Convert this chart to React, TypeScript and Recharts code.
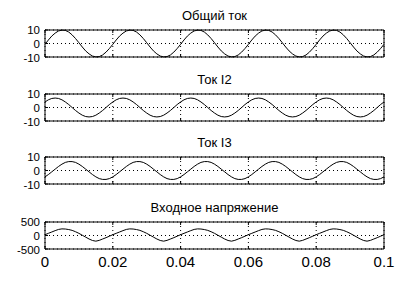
import { LineChart, Line, XAxis, YAxis, CartesianGrid } from "recharts";

// time samples, s
const time = [
  0, 0.001, 0.002, 0.003, 0.004, 0.005, 0.006, 0.007, 0.008, 0.009,
  0.01, 0.011, 0.012, 0.013, 0.014, 0.015, 0.016, 0.017, 0.018, 0.019,
  0.02, 0.021, 0.022, 0.023, 0.024, 0.025, 0.026, 0.027, 0.028, 0.029,
  0.03, 0.031, 0.032, 0.033, 0.034, 0.035, 0.036, 0.037, 0.038, 0.039,
  0.04, 0.041, 0.042, 0.043, 0.044, 0.045, 0.046, 0.047, 0.048, 0.049,
  0.05, 0.051, 0.052, 0.053, 0.054, 0.055, 0.056, 0.057, 0.058, 0.059,
  0.06, 0.061, 0.062, 0.063, 0.064, 0.065, 0.066, 0.067, 0.068, 0.069,
  0.07, 0.071, 0.072, 0.073, 0.074, 0.075, 0.076, 0.077, 0.078, 0.079,
  0.08, 0.081, 0.082, 0.083, 0.084, 0.085, 0.086, 0.087, 0.088, 0.089,
  0.09, 0.091, 0.092, 0.093, 0.094, 0.095, 0.096, 0.097, 0.098, 0.099,
  0.1,
];

const totalCurrent = [
  -0.6, 2.6, 5.5, 7.7, 9.3, 9.9, 9.7, 8.5, 6.4, 3.7, 0.6, -2.6, -5.5, -7.7, -9.3, -9.9, -9.7, -8.5, -6.4, -3.7,
  -0.6, 2.6, 5.5, 7.7, 9.3, 9.9, 9.7, 8.5, 6.4, 3.7, 0.6, -2.6, -5.5, -7.7, -9.3, -9.9, -9.7, -8.5, -6.4, -3.7,
  -0.6, 2.6, 5.5, 7.7, 9.3, 9.9, 9.7, 8.5, 6.4, 3.7, 0.6, -2.6, -5.5, -7.7, -9.3, -9.9, -9.7, -8.5, -6.4, -3.7,
  -0.6, 2.6, 5.5, 7.7, 9.3, 9.9, 9.7, 8.5, 6.4, 3.7, 0.6, -2.6, -5.5, -7.7, -9.3, -9.9, -9.7, -8.5, -6.4, -3.7,
  -0.6, 2.6, 5.5, 7.7, 9.3, 9.9, 9.7, 8.5, 6.4, 3.7, 0.6, -2.6, -5.5, -7.7, -9.3, -9.9, -9.7, -8.5, -6.4, -3.7,
  -0.6,
];

const currentI2 = [
  4.1, 5.7, 6.7, 7.0, 6.7, 5.7, 4.1, 2.2, 0, -2.2, -4.1, -5.7, -6.7, -7.0, -6.7, -5.7, -4.1, -2.2, 0, 2.2,
  4.1, 5.7, 6.7, 7.0, 6.7, 5.7, 4.1, 2.2, 0, -2.2, -4.1, -5.7, -6.7, -7.0, -6.7, -5.7, -4.1, -2.2, 0, 2.2,
  4.1, 5.7, 6.7, 7.0, 6.7, 5.7, 4.1, 2.2, 0, -2.2, -4.1, -5.7, -6.7, -7.0, -6.7, -5.7, -4.1, -2.2, 0, 2.2,
  4.1, 5.7, 6.7, 7.0, 6.7, 5.7, 4.1, 2.2, 0, -2.2, -4.1, -5.7, -6.7, -7.0, -6.7, -5.7, -4.1, -2.2, 0, 2.2,
  4.1, 5.7, 6.7, 7.0, 6.7, 5.7, 4.1, 2.2, 0, -2.2, -4.1, -5.7, -6.7, -7.0, -6.7, -5.7, -4.1, -2.2, 0, 2.2,
  4.1,
];

const currentI3 = [
  -4.7, -3.0, -1.0, 1.0, 3.0, 4.7, 6.0, 6.6, 6.6, 6.0, 4.7, 3.0, 1.0, -1.0, -3.0, -4.7, -6.0, -6.6, -6.6, -6.0,
  -4.7, -3.0, -1.0, 1.0, 3.0, 4.7, 6.0, 6.6, 6.6, 6.0, 4.7, 3.0, 1.0, -1.0, -3.0, -4.7, -6.0, -6.6, -6.6, -6.0,
  -4.7, -3.0, -1.0, 1.0, 3.0, 4.7, 6.0, 6.6, 6.6, 6.0, 4.7, 3.0, 1.0, -1.0, -3.0, -4.7, -6.0, -6.6, -6.6, -6.0,
  -4.7, -3.0, -1.0, 1.0, 3.0, 4.7, 6.0, 6.6, 6.6, 6.0, 4.7, 3.0, 1.0, -1.0, -3.0, -4.7, -6.0, -6.6, -6.6, -6.0,
  -4.7, -3.0, -1.0, 1.0, 3.0, 4.7, 6.0, 6.6, 6.6, 6.0, 4.7, 3.0, 1.0, -1.0, -3.0, -4.7, -6.0, -6.6, -6.6, -6.0,
  -4.7,
];

const inputVoltage = [
  30, 80, 130, 180, 225, 245, 240, 220, 190, 140, 80, 10, -60, -130, -185, -210, -180, -130, -80, -25,
  30, 80, 130, 180, 225, 245, 240, 220, 190, 140, 80, 10, -60, -130, -185, -210, -180, -130, -80, -25,
  30, 80, 130, 180, 225, 245, 240, 220, 190, 140, 80, 10, -60, -130, -185, -210, -180, -130, -80, -25,
  30, 80, 130, 180, 225, 245, 240, 220, 190, 140, 80, 10, -60, -130, -185, -210, -180, -130, -80, -25,
  30, 80, 130, 180, 225, 245, 240, 220, 190, 140, 80, 10, -60, -130, -185, -210, -180, -130, -80, -25,
  30,
];

const xTicks = [0, 0.02, 0.04, 0.06, 0.08, 0.1];
const xTickLabels = ["0", "0.02", "0.04", "0.06", "0.08", "0.1"];
const currentTicks = [-10, 0, 10];
const voltageTicks = [-500, 0, 500];

const FONT = "'Liberation Sans', Arial, sans-serif";
const W = 412;
const H = 284;
const PLOT_LEFT = 45;
const PLOT_RIGHT = 384;

const panels = [
  { title: "Общий ток", values: totalCurrent, ticks: currentTicks, top: 30, bottom: 57, showX: false },
  { title: "Ток I2", values: currentI2, ticks: currentTicks, top: 94, bottom: 121, showX: false },
  { title: "Ток I3", values: currentI3, ticks: currentTicks, top: 157, bottom: 184, showX: false },
  { title: "Входное напряжение", values: inputVoltage, ticks: voltageTicks, top: 222, bottom: 249, showX: true },
];

// small nudge so the three stacked labels do not collide
const yShift = [0.5, 0, -0.5];

const LeftTick = ({ x, y, payload, index }: any) => (
  <g>
    <line x1={x} x2={x + 3} y1={y} y2={y} stroke="#000" />
    <text
      x={x - 5}
      y={y + yShift[index]}
      dy="0.36em"
      textAnchor="end"
      fontSize={11.5}
      fontFamily={FONT}
      fill="#000"
    >
      {payload.value}
    </text>
  </g>
);

const RightTick = ({ x, y }: any) => (
  <line x1={x} x2={x - 3} y1={y} y2={y} stroke="#000" />
);

const TopTick = ({ x, y }: any) => (
  <line x1={x} x2={x} y1={y} y2={y + 3} stroke="#000" />
);

const makeBottomTick = (showX: boolean) => ({ x, y, index }: any) => (
  <g>
    <line x1={x} x2={x} y1={y} y2={y - 3} stroke="#000" />
    {showX && (
      <text x={x} y={y + 18} textAnchor="middle" fontSize={15} fontFamily={FONT} fill="#000">
        {xTickLabels[index]}
      </text>
    )}
  </g>
);

export default function App() {
  return (
    <div style={{ position: "absolute", left: 0, top: 0, width: W, height: H, background: "#fff" }}>
      {panels.map((p) => {
        const data = time.map((t, i) => ({ t, v: p.values[i] }));
        const domain = [p.ticks[0], p.ticks[2]];
        return (
          <div key={p.title}>
            <div
              style={{
                position: "absolute",
                left: PLOT_LEFT,
                width: PLOT_RIGHT - PLOT_LEFT,
                top: p.top - 21,
                textAlign: "center",
                fontSize: 13,
                lineHeight: "13px",
                fontFamily: FONT,
                color: "#000",
                whiteSpace: "nowrap",
              }}
            >
              {p.title}
            </div>
            <div style={{ position: "absolute", left: 0, top: 0 }}>
              <LineChart
                width={W}
                height={H}
                data={data}
                margin={{ top: p.top - 1, bottom: H - p.bottom - 1, left: 0, right: W - PLOT_RIGHT - 1 }}
              >
                <CartesianGrid stroke="#000" strokeDasharray="1 3" />
                <XAxis
                  dataKey="t"
                  type="number"
                  domain={[0, 0.1]}
                  ticks={xTicks}
                  interval={0}
                  height={1}
                  tickSize={0}
                  tickMargin={0}
                  tickLine={false}
                  axisLine={{ stroke: "#000" }}
                  tick={makeBottomTick(p.showX)}
                />
                <XAxis
                  xAxisId="top"
                  orientation="top"
                  dataKey="t"
                  type="number"
                  domain={[0, 0.1]}
                  ticks={xTicks}
                  interval={0}
                  height={1}
                  tickSize={0}
                  tickMargin={0}
                  tickLine={false}
                  axisLine={{ stroke: "#000" }}
                  tick={<TopTick />}
                />
                <YAxis
                  type="number"
                  domain={domain}
                  ticks={p.ticks}
                  interval={0}
                  width={PLOT_LEFT}
                  tickSize={0}
                  tickMargin={0}
                  tickLine={false}
                  axisLine={{ stroke: "#000" }}
                  tick={<LeftTick />}
                />
                <YAxis
                  yAxisId="right"
                  orientation="right"
                  type="number"
                  domain={domain}
                  ticks={p.ticks}
                  interval={0}
                  width={1}
                  tickSize={0}
                  tickMargin={0}
                  tickLine={false}
                  axisLine={{ stroke: "#000" }}
                  tick={<RightTick />}
                />
                <Line
                  dataKey="v"
                  type="linear"
                  stroke="#000"
                  strokeWidth={1}
                  dot={false}
                  isAnimationActive={false}
                />
              </LineChart>
            </div>
          </div>
        );
      })}
    </div>
  );
}
